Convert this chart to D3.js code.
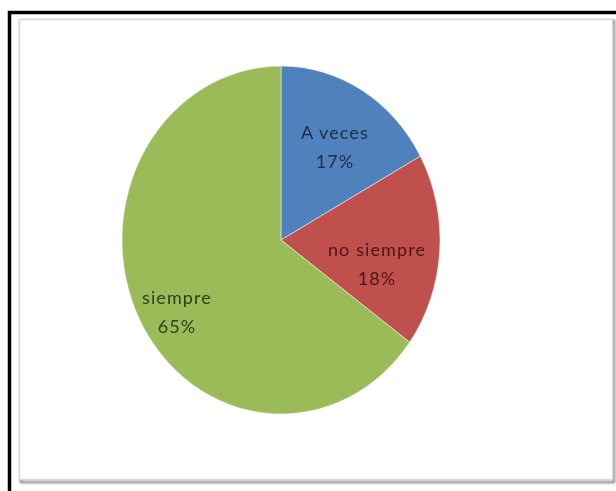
<!DOCTYPE html>
<html>
<head>
<meta charset="utf-8">
<script src="https://cdn.jsdelivr.net/npm/d3@7"></script>
<style>
  html, body { margin: 0; padding: 0; background: #ffffff; }
  svg { display: block; }
</style>
</head>
<body>
<svg id="chart" width="616" height="491"></svg>
<script>
// Answer categories and their share of responses (percent)
const categories = ["A veces", "no siempre", "siempre"];
const values = [17, 18, 65];
const colors = ["#4F81BD", "#C0504D", "#9BBB59"];
const labelColors = ["#1c2d4a", "#4a1716", "#2f3f14"];

// Label placement: fraction of radius along slice mid-angle, and baseline shift
const labelRadius = [0.667, 0.605, 0.734];
const labelShift = [-1, 9, 6];

const svg = d3.select("#chart");
const defs = svg.append("defs");
const blur = defs.append("filter").attr("id", "soft")
  .attr("x", "-5%").attr("y", "-5%").attr("width", "110%").attr("height", "110%");
blur.append("feGaussianBlur").attr("stdDeviation", 1.2);
const soft = defs.append("filter").attr("id", "textsoft");
soft.append("feGaussianBlur").attr("stdDeviation", 0.45);

// Outer black frame (top and left edges visible)
svg.append("path")
  .attr("d", "M9.5,491 V12.5 H616")
  .attr("fill", "none")
  .attr("stroke", "#000")
  .attr("stroke-width", 3.5);

// Chart area with soft shadow
svg.append("rect")
  .attr("x", 21).attr("y", 21).attr("width", 593).attr("height", 461)
  .attr("fill", "none").attr("stroke", "#8c8c8c").attr("stroke-width", 2.5)
  .attr("filter", "url(#soft)");
svg.append("rect")
  .attr("x", 19.5).attr("y", 19.5).attr("width", 593).attr("height", 460)
  .attr("fill", "#ffffff").attr("stroke", "#d9d9d9").attr("stroke-width", 1.5);

// Pie, drawn slightly taller than wide
const cx = 281, cy = 240, rx = 159, ry = 174;
const pie = d3.pie().sort(null).value(d => d)(values);
const arc = d3.arc().innerRadius(0).outerRadius(rx);

const g = svg.append("g")
  .attr("transform", `translate(${cx},${cy}) scale(1,${ry / rx})`);

g.selectAll("path.slice")
  .data(pie)
  .join("path")
  .attr("class", "slice")
  .attr("d", arc)
  .attr("fill", (d, i) => colors[i])
  .attr("stroke", "#ffffff")
  .attr("stroke-width", 0.8)
  .attr("stroke-opacity", 0.6);

// Category name and percentage inside each slice
const labels = svg.append("g")
  .attr("font-family", "Lato, 'Open Sans', sans-serif")
  .attr("font-size", 18)
  .attr("letter-spacing", 1.1)
  .attr("filter", "url(#textsoft)");
pie.forEach((d, i) => {
  const a = (d.startAngle + d.endAngle) / 2;
  const r = labelRadius[i];
  const x = cx + Math.sin(a) * rx * r;
  const y = cy - Math.cos(a) * ry * r + labelShift[i];
  const t = labels.append("text")
    .attr("text-anchor", "middle")
    .attr("fill", labelColors[i]);
  t.append("tspan").attr("x", x).attr("y", y).text(categories[i]);
  t.append("tspan").attr("x", x).attr("y", y + 29).text(values[i] + "%");
});
</script>
</body>
</html>
